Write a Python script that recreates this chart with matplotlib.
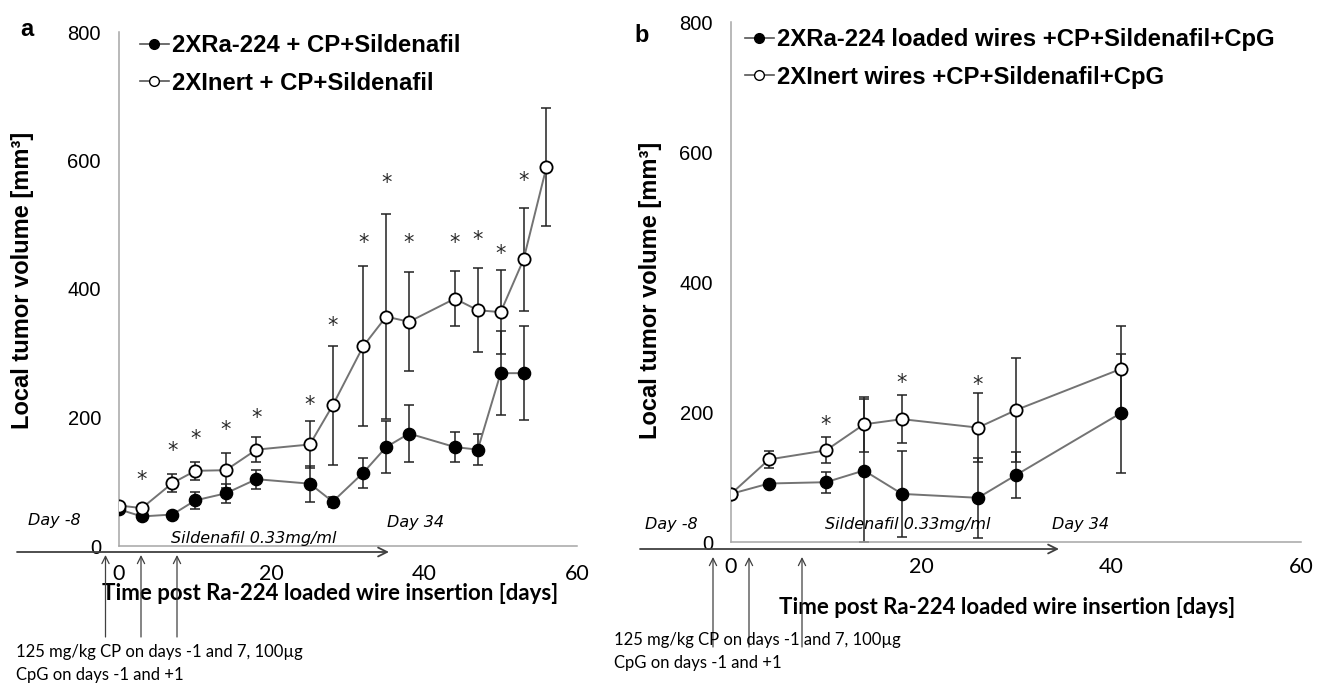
import matplotlib
matplotlib.use("Agg")
import matplotlib.pyplot as plt
from matplotlib.lines import Line2D
from matplotlib.patches import FancyArrowPatch

plt.rcParams['font.family'] = ['Liberation Sans', 'DejaVu Sans']

W, H = 1325, 685

# panel a: tumor volume (mm3) vs day
days_a = [0, 3, 7, 10, 14, 18, 25, 28, 32, 35, 38, 44, 47, 50, 53, 56]
ra_a = [57, 46, 49, 71, 82, 104, 97, 69, 114, 154, 175, 154, 150, 269, 269]
ra_a_err = [0, 3, 3, 13, 15, 15, 28, 8, 23, 40, 45, 23, 24, 65, 73]
inert_a = [63, 59, 98, 117, 118, 150, 158, 219, 311, 357, 349, 385, 367, 364, 446, 590]
inert_a_err = [0, 0, 14, 14, 27, 20, 37, 93, 125, 160, 77, 43, 65, 65, 80, 92]
star_days_a = [3, 7, 10, 14, 18, 25, 28, 32, 35, 38, 44, 47, 50, 53]
star_y_a = [102, 148, 166, 181, 199, 220, 343, 472, 565, 471, 471, 476, 455, 568]
labels_a = ['2XRa-224 + CP+Sildenafil', '2XInert + CP+Sildenafil']

# panel b
days_b = [0, 4, 10, 14, 18, 26, 30, 41]
ra_b = [74, 90, 92, 110, 74, 68, 103, 198]
ra_b_err = [0, 4, 16, 110, 66, 62, 36, 92]
inert_b = [74, 127, 141, 181, 189, 176, 203, 266]
inert_b_err = [0, 13, 20, 42, 37, 53, 80, 66]
star_days_b = [10, 18, 26]
star_y_b = [180, 245, 242]
labels_b = ['2XRa-224 loaded wires +CP+Sildenafil+CpG', '2XInert wires +CP+Sildenafil+CpG']

yticks = [0, 200, 400, 600, 800]
xticks = [0, 20, 40, 60]


def fx(x):
    return x / W


def fy(y):
    return 1 - y / H


def box(x0, y0, x1, y1):
    return [fx(x0), fy(y1), (x1 - x0) / W, (y1 - y0) / H]


fig = plt.figure(figsize=(W / 100, H / 100), dpi=100)
ax_a = fig.add_axes(box(119, 32, 577, 546))
ax_b = fig.add_axes(box(731, 22, 1301, 542))


def panel(ax, days, ra, ra_err, inert, inert_err, sdays, sy, labels, leg_xy, xpad):
    n1, n2 = len(ra), len(inert)
    ax.errorbar(days[:n1], ra, yerr=ra_err, fmt='none', ecolor='#222222',
                elinewidth=1.1, capsize=3.5, capthick=1.1, zorder=2)
    ax.errorbar(days[:n2], inert, yerr=inert_err, fmt='none', ecolor='#222222',
                elinewidth=1.1, capsize=3.5, capthick=1.1, zorder=2)
    ax.plot(days[:n1], ra, color='#737373', lw=1.4, marker='o', ms=8.8,
            mfc='black', mec='black', zorder=3)
    ax.plot(days[:n2], inert, color='#737373', lw=1.4, marker='o', ms=8.8,
            mfc='white', mec='black', mew=1.3, zorder=4)
    for d, y in zip(sdays, sy):
        ax.text(d, y, '*', ha='center', va='center', fontsize=15,
                family='DejaVu Sans', color='#2b2b2b')

    ax.set_xlim(0, 60)
    ax.set_ylim(0, 800)
    ax.set_xticks(xticks)
    ax.set_yticks(yticks)
    ax.set_xticklabels([str(t) for t in xticks], family='Lato', fontsize=15.5)
    ax.set_yticklabels([str(t) for t in yticks], fontsize=14.5)
    ax.tick_params(length=0)
    ax.tick_params(axis='y', pad=13)
    ax.tick_params(axis='x', pad=xpad)
    for s in ['top', 'right']:
        ax.spines[s].set_visible(False)
    for s in ['left', 'bottom']:
        ax.spines[s].set_color('#a6a6a6')
        ax.spines[s].set_linewidth(1.1)

    handles = [
        Line2D([], [], color='#555555', lw=1.2, marker='o', ms=7,
               mfc='black', mec='black'),
        Line2D([], [], color='#555555', lw=1.2, marker='o', ms=7,
               mfc='white', mec='black', mew=1.0),
    ]
    ax.legend(handles, labels, loc='upper left', bbox_to_anchor=leg_xy,
              bbox_transform=fig.transFigure, frameon=False, borderpad=0,
              borderaxespad=0, handlelength=1.2, handletextpad=0.12,
              labelspacing=0.62, prop={'weight': 'bold', 'size': 17.2})


panel(ax_a, days_a, ra_a, ra_a_err, inert_a, inert_a_err,
      star_days_a, star_y_a, labels_a, (fx(140), fy(34)), 13)
panel(ax_b, days_b, ra_b, ra_b_err, inert_b, inert_b_err,
      star_days_b, star_y_b, labels_b, (fx(745), fy(28)), 11)

# axis titles
for ax, xl, yl in [(ax_a, (330, 593), (23, 280)), (ax_b, (1007, 608), (650, 290))]:
    ax.set_xlabel('Time post Ra-224 loaded wire insertion [days]',
                  family='Lato', fontweight='bold', fontsize=16)
    ax.xaxis.set_label_coords(fx(xl[0]), fy(xl[1]), transform=fig.transFigure)
    ax.xaxis.label.set_va('center')
    ax.set_ylabel('Local tumor volume [mm³]', fontweight='bold', fontsize=17)
    ax.yaxis.set_label_coords(fx(yl[0]), fy(yl[1]), transform=fig.transFigure)
    ax.yaxis.label.set_va('center')

fig.text(fx(27), fy(30), 'a', fontsize=17, fontweight='bold', ha='center', va='center')
fig.text(fx(642), fy(35), 'b', fontsize=17, fontweight='bold', ha='center', va='center')

# treatment timeline annotations
ital = dict(family='DejaVu Sans', style='italic', fontsize=11.5, va='center', ha='left')
note = dict(family='Lato', fontsize=12, va='center', ha='left')
arrow_h = dict(arrowstyle='->', color='#404040', lw=1.3, shrinkA=0, shrinkB=0,
               mutation_scale=16)
arrow_v = dict(arrowstyle='->', color='#404040', lw=0.9, shrinkA=0, shrinkB=0,
               mutation_scale=13)

timeline = [
    # arrow x0, x1, y, day-8 xy, sildenafil xy, day34 xy, up arrows x, arrow y0, y1, note x, note y
    (17, 389, 552, (28, 521), (171, 538), (387, 523), (105.5, 141, 177), 637, 555, 16, 652),
    (640, 1059, 549, (645, 524), (825, 525), (1052, 525), (713, 749, 802), 647, 557, 614, 640),
]
for (x0, x1, y, d8, sil, d34, ups, ya, yb, nx, ny) in timeline:
    fig.add_artist(FancyArrowPatch((fx(x0), fy(y)), (fx(x1), fy(y)),
                                   transform=fig.transFigure, **arrow_h))
    fig.text(fx(d8[0]), fy(d8[1]), 'Day -8', **ital)
    fig.text(fx(sil[0]), fy(sil[1]), 'Sildenafil 0.33mg/ml', **ital)
    fig.text(fx(d34[0]), fy(d34[1]), 'Day 34', **ital)
    for ux in ups:
        fig.add_artist(FancyArrowPatch((fx(ux), fy(ya)), (fx(ux), fy(yb)),
                                       transform=fig.transFigure, **arrow_v))
    fig.text(fx(nx), fy(ny), '125 mg/kg CP on days -1 and 7, 100µg', **note)
    fig.text(fx(nx), fy(ny + 23), 'CpG on days -1 and +1', **note)

fig.savefig('out.png', dpi=100)
